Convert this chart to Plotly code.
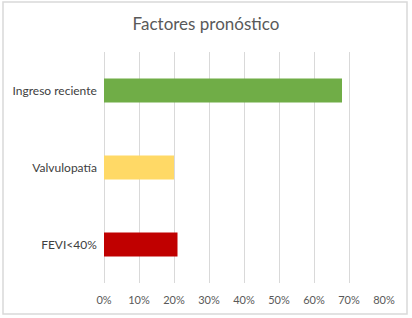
import plotly.graph_objects as go

categories = ["Ingreso reciente", "Valvulopatía", "FEVI<40%"]
values = [0.68, 0.20, 0.21]
colors = ["#70AD47", "#FFD966", "#C00000"]
tick_vals = [0, 0.1, 0.2, 0.3, 0.4, 0.5, 0.6, 0.7, 0.8]
tick_text = ["0%", "10%", "20%", "30%", "40%", "50%", "60%", "70%", "80%"]

fig = go.Figure(go.Bar(
    x=values, y=categories, orientation="h",
    marker=dict(color=colors, line=dict(width=0)),
    width=0.31,
))

fig.update_layout(
    width=412, height=318,
    margin=dict(l=104, r=28, t=52, b=35, autoexpand=False),
    paper_bgcolor="white", plot_bgcolor="white",
    font=dict(family="Lato, Open Sans, sans-serif", color="#595959", size=11),
    title=dict(text="Factores pronóstico", x=0.5, xanchor="center", y=0.925, yanchor="middle",
               font=dict(size=17, color="#595959")),
    showlegend=False,
    xaxis=dict(range=[0, 0.8], tickvals=tick_vals, ticktext=tick_text,
               showgrid=True, gridcolor="#D9D9D9", gridwidth=1,
               zeroline=True, zerolinecolor="#D9D9D9", zerolinewidth=1,
               showline=False, ticks="", tickfont=dict(size=11, color="#595959"),
               ticklabelstandoff=9, automargin=False),
    yaxis=dict(autorange="reversed", showgrid=False, zeroline=False, showline=False,
               ticks="", ticksuffix="  ", tickfont=dict(size=12, color="#404040"),
               automargin=False),
    shapes=[dict(type="rect", xref="paper", yref="paper",
                 x0=-101/280, x1=1 + 23/280, y0=-31/231, y1=1 + 50/231,
                 line=dict(color="#D9D9D9", width=1.5), fillcolor="rgba(0,0,0,0)", layer="below")],
)

fig.write_html("out.html", config={"displayModeBar": False},
               post_script="document.body.style.margin='0';document.body.style.padding='0';")
